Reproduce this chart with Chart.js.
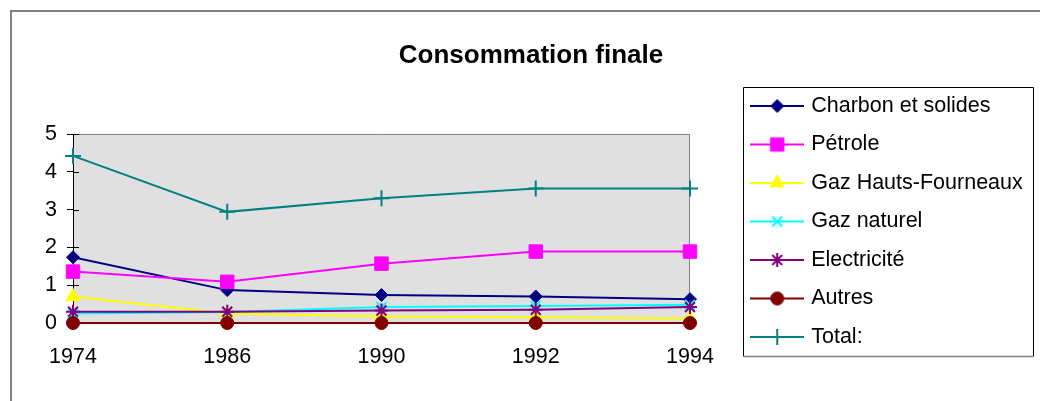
<!DOCTYPE html>
<html><head><meta charset="utf-8">
<script src="https://cdn.jsdelivr.net/npm/chart.js@4.4.1/dist/chart.umd.min.js"></script>
<style>html,body{margin:0;padding:0;background:#fff;overflow:hidden}#wrap{position:relative;width:1040px;height:401px}</style>
</head><body><div id="wrap"><canvas id="c" width="1040" height="401"></canvas></div>
<script>
// ---- data ----
const years = ['1974', '1986', '1990', '1992', '1994'];
const charbon = [1.74, 0.87, 0.74, 0.70, 0.63];
const petrole = [1.36, 1.09, 1.57, 1.89, 1.89];
const gazHF = [0.70, 0.25, 0.17, 0.15, 0.12];
const gazNaturel = [0.25, 0.29, 0.42, 0.45, 0.48];
const electricite = [0.30, 0.30, 0.33, 0.35, 0.42];
const autres = [0, 0, 0, 0, 0];
const total = [4.42, 2.94, 3.30, 3.56, 3.56];
const yTicks = [0, 1, 2, 3, 4, 5];
const seriesNames = ['Charbon et solides', 'Pétrole', 'Gaz Hauts-Fourneaux', 'Gaz naturel', 'Electricité', 'Autres', 'Total:'];
const titleText = 'Consommation finale';

// ---- styles ----
const seriesData = [charbon, petrole, gazHF, gazNaturel, electricite, autres, total];
const colors = ['#000080', '#FF00FF', '#FFFF00', '#00FFFF', '#800080', '#800000', '#008080'];
const shapes = ['rectRot', 'rect', 'triangle', 'crossRot', 'star', 'circle', 'cross'];
const radii = [6.5, 9.5, 8, 7, 7, 6.5, 8];
const FONT = "'Liberation Sans', Arial, sans-serif";

function makeLegendImg(color, shape, r) {
  const c = document.createElement('canvas');
  c.width = 54; c.height = 22;
  const x = c.getContext('2d');
  x.strokeStyle = color; x.lineWidth = 2;
  x.beginPath(); x.moveTo(0, 11); x.lineTo(54, 11); x.stroke();
  x.fillStyle = color; x.strokeStyle = color;
  x.lineWidth = (shape === 'cross' || shape === 'crossRot' || shape === 'star') ? 2 : 1;
  if (Chart.helpers && Chart.helpers.drawPoint) {
    Chart.helpers.drawPoint(x, {pointStyle: shape, radius: r, borderWidth: x.lineWidth, rotation: 0}, 27, 11);
  }
  return c;
}
const legendImgs = colors.map((c, i) => makeLegendImg(c, shapes[i], radii[i]));

const datasets = seriesNames.map((name, i) => {
  const stroked = (shapes[i] === 'cross' || shapes[i] === 'crossRot' || shapes[i] === 'star');
  return {
    label: name,
    data: seriesData[i],
    borderColor: colors[i],
    backgroundColor: colors[i],
    borderWidth: 2,
    tension: 0,
    pointStyle: shapes[i],
    pointRadius: radii[i],
    pointHoverRadius: radii[i],
    pointBackgroundColor: colors[i],
    pointBorderColor: colors[i],
    pointBorderWidth: stroked ? 2 : 1,
    clip: false,
    order: seriesNames.length - i
  };
});

const padLeft = 29.25, padRight = 7.25, padTop = 42;

const decor = {
  id: 'decor',
  beforeDraw(chart) {
    const {ctx, chartArea: a} = chart;
    ctx.save();
    ctx.fillStyle = '#fff';
    ctx.fillRect(0, 0, chart.width, chart.height);
    ctx.strokeStyle = '#808080'; ctx.lineWidth = 2;
    ctx.beginPath(); ctx.moveTo(11, 450); ctx.lineTo(11, 11); ctx.lineTo(1100, 11); ctx.stroke();
    ctx.fillStyle = '#e0e0e0';
    ctx.fillRect(a.left, a.top, a.right - a.left, a.bottom - a.top);
    ctx.strokeStyle = '#808080'; ctx.lineWidth = 1;
    ctx.beginPath();
    ctx.moveTo(a.left, Math.round(a.top) + 0.5);
    ctx.lineTo(Math.round(a.right) - 0.5, Math.round(a.top) + 0.5);
    ctx.lineTo(Math.round(a.right) - 0.5, a.bottom);
    ctx.stroke();
    ctx.restore();
  },
  beforeDatasetsDraw(chart) {
    const {ctx, chartArea: a} = chart;
    const ys = chart.scales.y;
    ctx.save();
    ctx.strokeStyle = '#000'; ctx.lineWidth = 1;
    ctx.beginPath();
    yTicks.forEach(v => {
      const py = Math.round(ys.getPixelForValue(v)) + 0.5;
      ctx.moveTo(a.left, py); ctx.lineTo(a.left + 6, py);
    });
    ctx.stroke();
    ctx.restore();
  },
  afterDraw(chart) {
    const lg = chart.legend;
    if (!lg || !lg.legendHitBoxes || !lg.legendHitBoxes.length) return;
    const hb = lg.legendHitBoxes;
    const first = hb[0], last = hb[hb.length - 1];
    const l = Math.round(first.left - 11) + 0.5;
    const t = Math.round(first.top - 8) + 0.5;
    const r = Math.round(first.left + 279) + 0.5;
    const b = Math.round(last.top + last.height + 8) + 0.5;
    const ctx = chart.ctx;
    ctx.save();
    ctx.strokeStyle = '#000'; ctx.lineWidth = 1;
    ctx.beginPath(); ctx.moveTo(l, b); ctx.lineTo(l, t); ctx.lineTo(r, t); ctx.lineTo(r, b); ctx.stroke();
    ctx.strokeStyle = '#808080'; ctx.lineWidth = 1.5;
    ctx.beginPath(); ctx.moveTo(l, b); ctx.lineTo(r, b); ctx.stroke();
    ctx.restore();
  }
};

new Chart(document.getElementById('c'), {
  type: 'line',
  data: { labels: years, datasets },
  plugins: [decor],
  options: {
    responsive: false,
    animation: false,
    devicePixelRatio: 1,
    events: [],
    layout: { padding: { left: padLeft, right: padRight, top: padTop, bottom: 0 } },
    plugins: {
      tooltip: { enabled: false },
      title: {
        display: true, text: titleText, color: '#000',
        font: { family: FONT, size: 26, weight: 'bold', lineHeight: 1 },
        padding: { top: 1, bottom: 5 }
      },
      legend: {
        display: true, position: 'right', align: 'center', fullSize: true,
        maxWidth: 400,
        labels: {
          color: '#000',
          font: { family: FONT, size: 21.5 },
          usePointStyle: true,
          pointStyleWidth: 46.5,
          padding: 17,
          generateLabels: (chart) => chart.data.datasets.map((ds, i) => ({
            text: ds.label, pointStyle: legendImgs[i], datasetIndex: i,
            fillStyle: colors[i], strokeStyle: colors[i], lineWidth: 0, hidden: false, fontColor: '#000'
          }))
        }
      }
    },
    scales: {
      x: {
        type: 'category', offset: false,
        grid: { display: false, drawTicks: false },
        border: { display: true, color: '#000', width: 1 },
        ticks: { color: '#000', font: { family: FONT, size: 21.5 }, padding: 21, maxRotation: 0, autoSkip: false },
        afterFit(s) { s.height = 78; }
      },
      xT: {
        type: 'category', position: 'top', display: true,
        grid: { display: false, drawTicks: false }, border: { display: false },
        ticks: { display: false },
        afterFit(s) { s.height = 60; }
      },
      y: {
        type: 'linear', min: 0, max: 5,
        afterBuildTicks(s) { s.ticks = yTicks.map(v => ({ value: v })); },
        grid: { drawOnChartArea: false, drawTicks: true, tickLength: 6, color: '#000' },
        border: { display: true, color: '#000', width: 1 },
        ticks: { color: '#000', font: { family: FONT, size: 21.5 }, padding: 10 },
        afterFit(s) { s.width = 73 - padLeft; }
      },
      yR: {
        type: 'linear', position: 'right', display: true,
        grid: { display: false, drawTicks: false }, border: { display: false },
        ticks: { display: false },
        afterFit(s) { s.width = 47; }
      }
    }
  }
});
</script>
</body></html>
